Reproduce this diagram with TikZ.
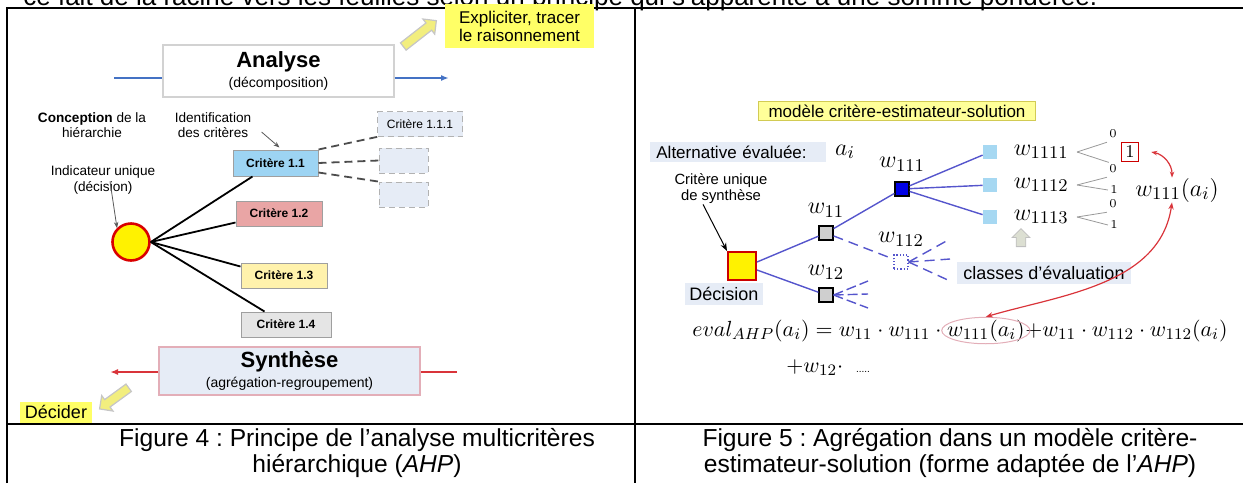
\documentclass[tikz,border=0pt]{standalone}
\usepackage{amsmath}
\usepackage{fontspec}
\setmainfont{Liberation Sans}
\usetikzlibrary{positioning, calc, fit, arrows.meta, shapes.geometric, shapes.arrows}
\frenchspacing

\definecolor{bleuligne}{HTML}{4472C4}
\definecolor{rougeligne}{HTML}{D9343A}
\definecolor{jaunefluo}{HTML}{FFFF66}
\definecolor{jaunefleche}{HTML}{F2EE7E}
\definecolor{fondbleu}{HTML}{E6ECF6}
\definecolor{bleuc}{HTML}{9DD4F3}
\definecolor{rosec}{HTML}{E9A5A5}
\definecolor{jaunec}{HTML}{FFF2AC}
\definecolor{grisc}{HTML}{E5E5E5}
\definecolor{bordrose}{HTML}{E3AEB8}
\definecolor{arbre}{HTML}{5555CC}
\definecolor{bleufonce}{HTML}{0000E6}
\definecolor{bleuclair}{HTML}{A6D8F2}
\definecolor{grisnoeud}{HTML}{CFCFCF}
\definecolor{jaunemodele}{HTML}{FFFF99}
\definecolor{grisvert}{HTML}{DCDFD2}

\begin{document}
\begin{tikzpicture}[x=0.5pt, y=-0.5pt,
    every node/.style={inner sep=0pt},
    legende/.style={align=center, font=\fontsize{12.3}{13}\selectfont},
    note/.style={align=center, font=\fontsize{6.8}{7.6}\selectfont},
    critere/.style={draw=gray!75, line width=0.5pt, font=\bfseries\fontsize{6}{7}\selectfont, minimum height=12.5pt},
    vide/.style={draw=gray!60, densely dashed, line width=0.4pt, fill=fondbleu, minimum height=12.5pt, minimum width=24.5pt},
    surligne/.style={fill=jaunefluo, align=center},
    grosfleche/.style={single arrow, draw=gray!45, fill=jaunefleche, inner sep=2pt, single arrow head extend=2.5pt, line width=0.6pt},
    noeud/.style={draw, line width=0.6pt, minimum size=7pt},
    feuille/.style={fill=bleuclair, minimum size=7pt},
    branche/.style={arbre, line width=0.7pt},
    fourche/.style={gray!80, line width=0.4pt},
    poids/.style={font=\fontsize{13}{15}\selectfont},
    chiffre/.style={font=\fontsize{6}{7}\selectfont},
    fondtxt/.style={fill=fondbleu, font=\fontsize{9}{10}\selectfont, inner xsep=3pt, inner ysep=2pt},
    pointeur/.style={gray!70!black, line width=0.4pt, -{Stealth[length=3pt]}},
  ]
  \useasboundingbox (0,0) rectangle (1243,483);

  % tableau
  \draw[line width=1.1pt] (7,483) -- (7,8) -- (1243,8);
  \draw[line width=1.1pt] (635,8) -- (635,483);
  \draw[line width=1.1pt] (7,424) -- (1243,424);
  \begin{scope}
    \clip (0,0) rectangle (1243,483);
    \node[anchor=base west, font=\fontsize{13}{15}\selectfont] (phrase) at (23,5) {ce fait de la racine vers les feuilles selon un principe qui s’apparente à une somme pondérée.};
  \end{scope}

  % figure 4
  \node[draw=gray!35, line width=0.6pt, fill=white, minimum width=115.5pt, minimum height=26pt, align=center] (analyse) at (278.5,71) {{\fontsize{11}{12}\selectfont\textbf{Analyse}}\\[-2pt]{\fontsize{7}{8}\selectfont(décomposition)}};
  \coordinate (anin) at (114,78);
  \coordinate (anout) at (449,78);
  \draw[bleuligne, line width=1pt] (anin) -- (anin -| analyse.west);
  \draw[bleuligne, line width=1pt, -{Latex[length=4pt]}] (analyse.east |- anout) -- (anout);

  \node[surligne, minimum width=74.5pt, minimum height=22pt, font=\fontsize{8.5}{9}\selectfont] (expl) at (519.5,26) {Expliciter, tracer\\le raisonnement};
  \node[grosfleche, minimum height=21pt, rotate=38] (flhaut) at (418,35) {};

  \node[note] (concept) at (92,125) {\textbf{Conception} de la\\hiérarchie};
  \node[note] (ident) at (213,125) {Identification\\des critères};
  \node[note] (indiclab) at (103,180) {Indicateur unique\\(décision)};

  \node[critere, fill=bleuc, minimum width=42.5pt, minimum height=13pt] (c11) at (275.5,163) {Critère 1.1};
  \node[critere, fill=rosec, minimum width=43pt] (c12) at (279,213.5) {Critère 1.2};
  \node[critere, fill=jaunec, minimum width=43pt] (c13) at (284,275.5) {Critère 1.3};
  \node[critere, fill=grisc, minimum width=45pt] (c14) at (286,324.5) {Critère 1.4};
  \node[vide, minimum width=42.5pt, font=\fontsize{6}{7}\selectfont] (c111) at (420,124) {Critère 1.1.1};
  \node[vide] (ce1) at (403.5,160.5) {};
  \node[vide] (ce2) at (403.5,194.5) {};

  \node[circle, draw=red!85!black, fill=yellow, line width=1.3pt, minimum size=18.5pt] (indic) at (131,242) {};

  \draw[pointeur] ([shift={(10,-6)}]ident.south east) -- ([shift={(2pt,1pt)}]c11.north);
  \draw[pointeur] ([shift={(7,-13)}]indiclab.south) -- (indic.north west);

  \draw[gray!60!black, line width=0.9pt, dash pattern=on 4pt off 2.5pt] (c11.north east) -- (c111.south west);
  \draw[gray!60!black, line width=0.9pt, dash pattern=on 4pt off 2.5pt] (c11.east) -- (ce1.west);
  \draw[gray!60!black, line width=0.9pt, dash pattern=on 4pt off 2.5pt] ([yshift=2pt]c11.south east) -- (ce2.north west);

  \draw[line width=0.9pt] (indic.east) -- ([xshift=10pt]c11.south west);
  \draw[line width=0.9pt] (indic.east) -- ([yshift=2pt]c12.south west);
  \draw[line width=0.9pt] (indic.east) -- ([yshift=-2pt]c13.north west);
  \draw[line width=0.9pt] (indic.east) -- ([xshift=12pt]c14.north west);

  \node[draw=bordrose, line width=0.6pt, fill=fondbleu, minimum width=130.5pt, minimum height=24pt, align=center] (synth) at (289.5,371) {{\fontsize{11}{12}\selectfont\textbf{Synthèse}}\\[-2pt]{\fontsize{7}{8}\selectfont(agrégation-regroupement)}};
  \coordinate (synout) at (110,372);
  \coordinate (synin) at (457,372);
  \draw[rougeligne, line width=1pt, -{Latex[length=4pt]}] (synth.west |- synout) -- (synout);
  \draw[rougeligne, line width=1pt] (synin) -- (synth.east |- synin);

  \node[surligne, minimum width=36pt, minimum height=10.5pt, font=\fontsize{9}{10}\selectfont] (decider) at (56,412) {Décider};
  \node[grosfleche, minimum height=18pt, rotate=216] (flbas) at (116,397) {};

  \node[legende] (leg4) at (357,453) {Figure 4 : Principe de l’analyse multicritères\\hiérarchique (\textit{AHP})};

  % figure 5
  \node[draw=yellow!60!gray, line width=0.4pt, fill=jaunemodele, minimum width=138.5pt, minimum height=9.5pt, font=\fontsize{8.5}{9}\selectfont] (modele) at (897,111) {modèle critère-estimateur-solution};
  \node[fondtxt, anchor=west, text width=82pt, align=left, font=\fontsize{8.5}{9}\selectfont] (altbox) at (650,152) {Alternative évaluée:};
  \node[poids, right=4pt of altbox] (ai) {$a_i$};

  \node[note, font=\fontsize{7.4}{8}\selectfont] (critlab) at (721,189) {Critère unique\\de synthèse};
  \node[draw=red!80!black, fill=yellow, line width=1pt, minimum size=14pt] (dec) at (742,266) {};
  \node[fondtxt, inner xsep=2pt] (declab) at (724,294) {Décision};
  \draw[black, line width=0.5pt, -{Stealth[length=4pt]}] ([xshift=-9pt]critlab.south) -- (dec.north west);

  \node[noeud, fill=grisnoeud] (s11) at (826,233) {};
  \node[noeud, fill=grisnoeud] (s12) at (826,295) {};
  \node[noeud, fill=bleufonce] (s111) at (902,189) {};
  \node[noeud, draw=arbre, densely dotted, fill=white] (s112) at (901,262) {};
  \node[poids, above=4pt of s11] (w11) {$w_{11}$};
  \node[poids, above=4pt of s12] (w12) {$w_{12}$};
  \node[poids, above=5pt of s111] (w111) {$w_{111}$};
  \node[poids, above=4pt of s112] (w112) {$w_{112}$};

  \node[feuille] (s1111) at (990,152) {};
  \node[feuille] (s1112) at (990,185) {};
  \node[feuille] (s1113) at (990,217) {};
  \node[poids, right=8pt of s1111] (w1111) {$w_{1111}$};
  \node[poids, right=8pt of s1112] (w1112) {$w_{1112}$};
  \node[poids, right=8pt of s1113] (w1113) {$w_{1113}$};

  \draw[branche] ([yshift=2pt]dec.east) -- (s11);
  \draw[branche] ([yshift=-2pt]dec.east) -- (s12);
  \draw[branche] (s11) -- (s111);
  \draw[branche] (s111) -- (s1111);
  \draw[branche] (s111) -- (s1112);
  \draw[branche] (s111) -- (s1113);
  \draw[branche, dash pattern=on 5pt off 3pt] (s11) -- (s112);
  \coordinate (p1) at (950,239);
  \coordinate (p2) at (950,259);
  \coordinate (p3) at (950,281);
  \foreach \p in {p1,p2,p3}
    \draw[branche, dash pattern=on 5pt off 3pt] (s112.east) -- (\p);
  \coordinate (q1) at (868,281);
  \coordinate (q2) at (868,294);
  \coordinate (q3) at (868,308);
  \foreach \q in {q1,q2,q3}
    \draw[branche, dash pattern=on 5pt off 2pt] (s12.east) -- (\q);

  % classes 0 / 1
  \node[chiffre] (z1) at (1113,134) {$0$};
  \node[draw=red!80!black, line width=0.6pt, inner sep=2pt, font=\fontsize{9.5}{10}\selectfont] (un) at (1130,152) {$1$};
  \node[chiffre] (z2) at (1113,169) {$0$};
  \node[chiffre] (o2) at (1114,190) {$1$};
  \node[chiffre] (z3) at (1113,204) {$0$};
  \node[chiffre] (o3) at (1114,225) {$1$};
  \draw[fourche] ([xshift=4pt]w1111.east) -- ([shift={(-2,4)}]z1.south west);
  \draw[fourche] ([xshift=4pt]w1111.east) -- ([xshift=-6pt]un.south west);
  \draw[fourche] ([xshift=4pt]w1112.east) -- ([shift={(-2,4)}]z2.south west);
  \draw[fourche] ([xshift=4pt]w1112.east) -- ([xshift=-1pt]o2.west);
  \draw[fourche] ([xshift=4pt]w1113.east) -- ([shift={(-2,4)}]z3.south west);
  \draw[fourche] ([xshift=4pt]w1113.east) -- ([xshift=-1pt]o3.west);

  \node[poids] (w111a) at (1177,190) {$w_{111}(a_i)$};
  \draw[rougeligne, line width=0.6pt, {Stealth[length=3pt]}-{Stealth[length=3pt]}] ([xshift=6pt]un.east) to[bend left=40] ([xshift=-2.5pt]w111a.north);

  \node[single arrow, draw=gray!50, fill=grisvert, inner sep=2.2pt, single arrow head extend=2pt, minimum height=9pt, rotate=90] (flclasse) at (1021,240) {};
  \node[fondtxt] (classes) at (1044,273) {classes d’évaluation};

  % formule
  \node[anchor=base west, font=\fontsize{11}{13}\selectfont] (f1) at (692,336) {$eval_{AHP}(a_i) = w_{11}\cdot w_{111}\cdot{}$};
  \node[base right=0pt of f1, font=\fontsize{11}{13}\selectfont] (f2) {$w_{111}(a_i)$};
  \node[base right=0pt of f2, font=\fontsize{11}{13}\selectfont] (f3) {$+w_{11}\cdot w_{112}\cdot w_{112}(a_i)$};
  \node[anchor=base west, font=\fontsize{11}{13}\selectfont] (f4) at (786,372) {$+w_{12}\cdot$};
  \node[base right=6pt of f4, font=\fontsize{5}{6}\selectfont] (f5) {.....};
  \node[ellipse, draw=bordrose, line width=0.5pt, fit=(f2), inner xsep=-4pt, inner ysep=-1pt] (cercle) {};

  \draw[rougeligne, line width=0.6pt, {Stealth[length=3.5pt]}-{Stealth[length=3.5pt]}] ([xshift=-2.5pt]w111a.south) .. controls (1160,285) and (1060,295) .. (cercle.north);

  \node[legende] (leg5) at (950,453) {Figure 5 : Agrégation dans un modèle critère-\\estimateur-solution (forme adaptée de l’\textit{AHP})};
\end{tikzpicture}
\end{document}
